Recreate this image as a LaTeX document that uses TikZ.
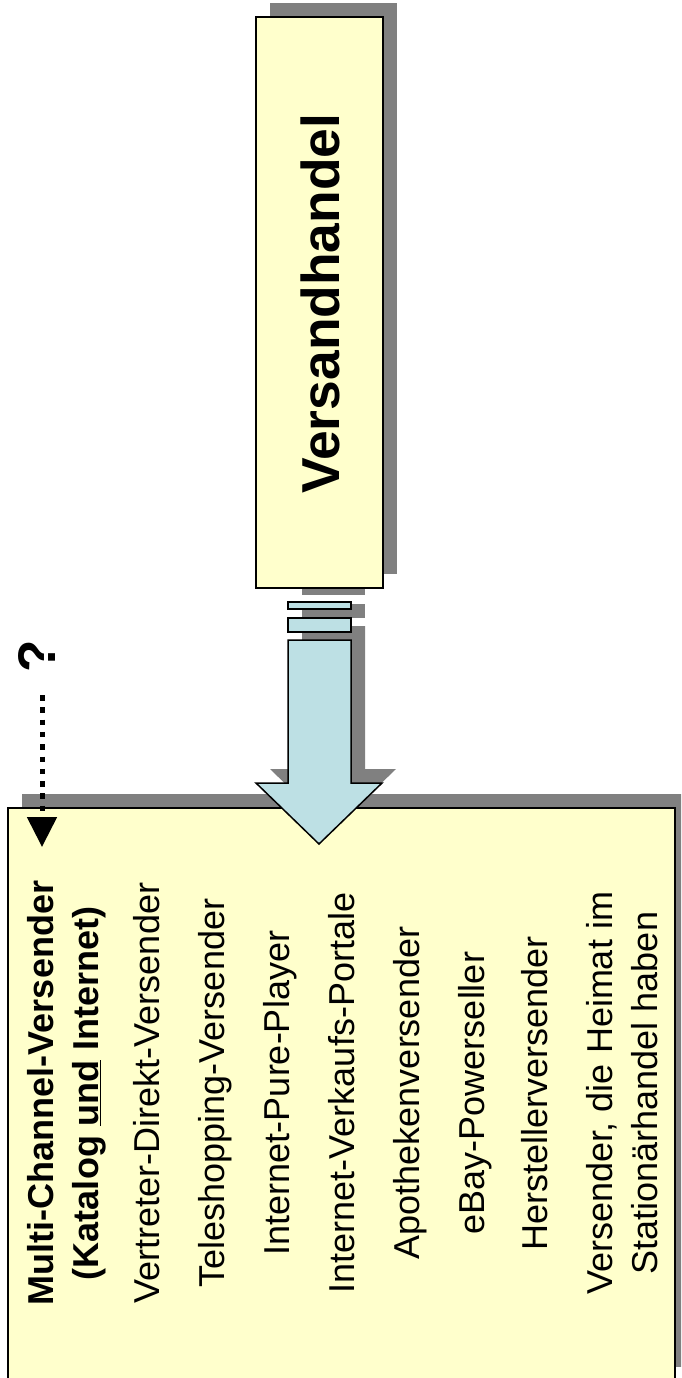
\documentclass[tikz,border=0pt]{standalone}
\usepackage{fontspec}
\setmainfont{Liberation Sans}
\usetikzlibrary{arrows.meta}
\definecolor{boxyellow}{HTML}{FFFFCC}
\definecolor{arrowblue}{HTML}{BDE0E4}
\definecolor{shadowgray}{HTML}{808080}
\tikzset{
  ybox/.style={draw=black, line width=1.5pt, fill=boxyellow, inner sep=0pt, outer sep=0pt},
  shadowfill/.style={fill=shadowgray},
  blockarrow/.style={draw=black, line width=1.5pt, fill=arrowblue, line join=miter},
  rottext/.style={rotate=90, anchor=base, inner sep=0pt, text=black},
  dotline/.style={line width=5pt, dash pattern=on 5.5pt off 6.8pt, -{Triangle[width=29pt,length=30pt]}},
}
\begin{document}
\begin{tikzpicture}[x=1pt,y=-1pt]
\useasboundingbox (0,0) rectangle (681,1378);
\clip (0,0) rectangle (681,1378);
\fill[white] (0,0) rectangle (681,1378);
% shadows
\fill[shadowfill] (270,3) rectangle (397,574);
\fill[shadowfill] (22,794) rectangle (689,1367);
\begin{scope}[shift={(14,-14)}]
  \fill[shadowfill] (288,602) rectangle (351,609);
  \fill[shadowfill] (288,618) rectangle (351,632);
  \fill[shadowfill] (288,640) -- (351,640) -- (351,783) -- (382,783) -- (319,844) -- (256,783) -- (288,783) -- cycle;
\end{scope}
% boxes
\node[ybox, minimum width=127pt, minimum height=571pt] (vh) at (319.5,302.5) {};
\node[ybox, minimum width=667pt, minimum height=573pt] (mc) at (341.5,1094.5) {};
% block arrow
\path[blockarrow] (288,602) rectangle (351,609);
\path[blockarrow] (288,618) rectangle (351,632);
\path[blockarrow] (288,640) -- (351,640) -- (351,783) -- (382,783) -- (319,844) -- (256,783) -- (288,783) -- cycle;
% texts
\node[rottext, font=\fontsize{53.4}{60}\selectfont\bfseries] (vht) at (339,303.5) {Versandhandel};
\node[rottext, align=center, font=\fontsize{36}{45}\selectfont] (mct) at (657,1093)
  {\textbf{Multi-Channel-Versender}\\
   \textbf{(Katalog \underline{und} Internet)}\\[16pt]
   Vertreter-Direkt-Versender\\[20pt]
   Teleshopping-Versender\\[20pt]
   Internet-Pure-Player\\[20pt]
   Internet-Verkaufs-Portale\\[20pt]
   Apothekenversender\\[20pt]
   eBay-Powerseller\\[18pt]
   Herstellerversender\\[20pt]
   Versender, die Heimat im\\
   Stationärhandel haben};
\node[rottext, font=\fontsize{53}{60}\selectfont\bfseries] (q) at (55,656) {?};
\coordinate (qs) at (42,695);
\coordinate (qe) at (42,847);
\draw[dotline] (qs) -- (qe);
\end{tikzpicture}
\end{document}
